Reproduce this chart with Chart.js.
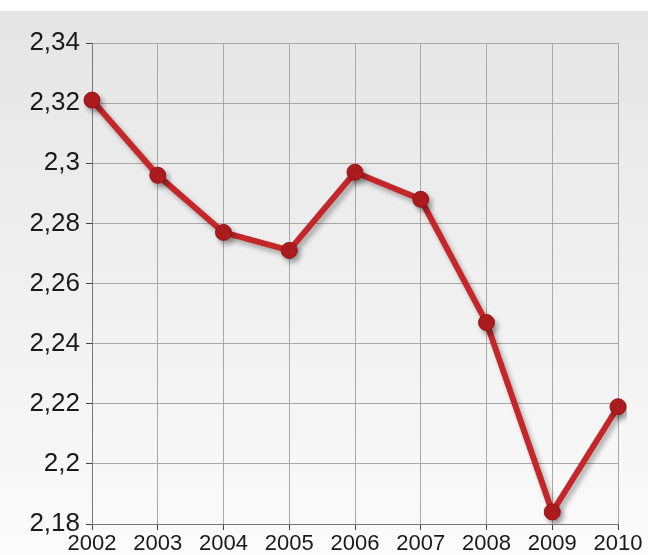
<!DOCTYPE html>
<html>
<head>
<meta charset="utf-8">
<script src="https://cdn.jsdelivr.net/npm/chart.js@4"></script>
<style>
  body { margin: 0; background: #fff; }
  #wrap { width: 649px; height: 555px; }
</style>
</head>
<body>
<div id="wrap"><canvas id="lineChart" width="649" height="555"></canvas></div>
<script>
const years = ["2002", "2003", "2004", "2005", "2006", "2007", "2008", "2009", "2010"];
const values = [2.321, 2.296, 2.277, 2.271, 2.297, 2.288, 2.247, 2.184, 2.219];
const yMin = 2.18;
const yMax = 2.34;
const yStep = 0.02;

// grey gradient behind everything, starts a bit below the top edge
const bgPlugin = {
  id: "bg",
  beforeDraw(chart) {
    const ctx = chart.ctx;
    const g = ctx.createLinearGradient(0, 11, 0, chart.height);
    g.addColorStop(0, "#e5e5e5");
    g.addColorStop(1, "#fbfbfb");
    ctx.save();
    ctx.fillStyle = "#ffffff";
    ctx.fillRect(0, 0, chart.width, chart.height);
    ctx.fillStyle = g;
    ctx.fillRect(0, 11, chart.width - 1, chart.height - 11);
    ctx.restore();
  }
};

// drop shadow under the line
const shadowPlugin = {
  id: "shadow",
  beforeDatasetDraw(chart) {
    const ctx = chart.ctx;
    ctx.save();
    ctx.shadowColor = "rgba(0,0,0,0.3)";
    ctx.shadowBlur = 5;
    ctx.shadowOffsetX = 3;
    ctx.shadowOffsetY = 4;
  },
  afterDatasetDraw(chart) {
    chart.ctx.restore();
  }
};

const ctx = document.getElementById("lineChart").getContext("2d");
new Chart(ctx, {
  type: "line",
  data: {
    labels: years,
    datasets: [{
      data: values,
      borderColor: "#c4262a",
      borderWidth: 6,
      pointRadius: 8,
      pointBackgroundColor: "#b01c1f",
      pointBorderColor: "#961417",
      pointBorderWidth: 1,
      tension: 0,
      fill: false
    }]
  },
  options: {
    responsive: false,
    animation: false,
    layout: { padding: { left: 0, right: 31, top: 43, bottom: 0 } },
    plugins: { legend: { display: false }, tooltip: { enabled: false } },
    scales: {
      x: {
        offset: false,
        grid: { color: "#a8a8a8", tickLength: 6, tickColor: "#444" },
        border: { color: "#777" },
        ticks: {
          color: "#1a1a1a",
          padding: 1,
          maxRotation: 0,
          autoSkip: false,
          font: { family: "'Liberation Sans', Arial, sans-serif", size: 22 }
        },
        afterFit(scale) { scale.height = 31; }
      },
      y: {
        min: yMin,
        max: yMax,
        grid: { color: "#a8a8a8", tickLength: 6, tickColor: "#444" },
        border: { color: "#777" },
        ticks: {
          stepSize: yStep,
          color: "#1a1a1a",
          padding: 6,
          font: { family: "'Liberation Sans', Arial, sans-serif", size: 26 },
          callback: v => String(Math.round(v * 100) / 100).replace(".", ",")
        },
        afterFit(scale) { scale.width = 92; }
      }
    }
  },
  plugins: [bgPlugin, shadowPlugin]
});
</script>
</body>
</html>
